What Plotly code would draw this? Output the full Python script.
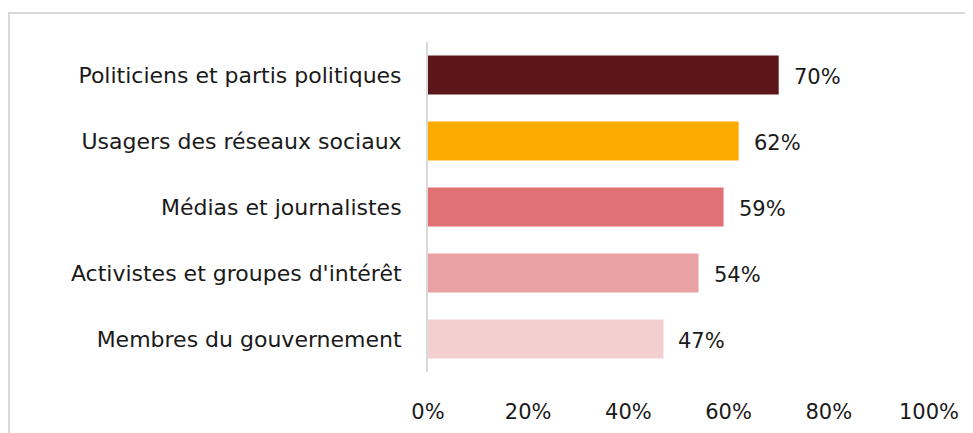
import plotly.graph_objects as go

categories = [
    "Politiciens et partis politiques",
    "Usagers des réseaux sociaux",
    "Médias et journalistes",
    "Activistes et groupes d'intérêt",
    "Membres du gouvernement",
]
values = [70, 62, 59, 54, 47]
bar_colors = ["#5C1619", "#FFAA00", "#E07275", "#E9A1A3", "#F4CFD0"]
tick_values = [0, 20, 40, 60, 80, 100]
tick_labels = ["0%", "20%", "40%", "60%", "80%", "100%"]

FONT = "DejaVu Sans, sans-serif"
TEXT_COLOR = "#1a1a1a"
FS_CAT = 22
FS_NUM = 21

fig = go.Figure()
fig.add_trace(go.Bar(
    y=categories,
    x=values,
    orientation="h",
    marker=dict(color=bar_colors, line=dict(width=0)),
    width=0.59,
    hoverinfo="skip",
))

for cat, v in zip(categories, values):
    fig.add_annotation(
        x=v, y=cat, xref="x", yref="y",
        text=f"{v}%", showarrow=False,
        xanchor="left", yanchor="middle", xshift=13, yshift=-2,
        font=dict(family=FONT, size=FS_NUM, color=TEXT_COLOR),
    )

# outer border (chart frame), partly outside the visible window
fig.add_shape(
    type="rect", xref="paper", yref="paper",
    x0=-0.8363, x1=1.15, y0=1.0879, y1=-0.3,
    line=dict(color="#D9D9D9", width=2), fillcolor="rgba(0,0,0,0)",
    layer="below",
)

fig.update_layout(
    width=973, height=433,
    margin=dict(l=420, r=52, t=34, b=69),
    paper_bgcolor="white", plot_bgcolor="white",
    showlegend=False,
    font=dict(family=FONT, size=FS_NUM, color=TEXT_COLOR),
    xaxis=dict(
        range=[0, 100], tickvals=tick_values, ticktext=tick_labels,
        showgrid=False, zeroline=False, showline=False,
        ticks="", ticklabelstandoff=25,
        tickfont=dict(family=FONT, size=FS_NUM, color=TEXT_COLOR),
        fixedrange=True,
    ),
    yaxis=dict(
        autorange="reversed", showgrid=False, zeroline=False,
        showline=True, linecolor="#D9D9D9", linewidth=2,
        ticks="", ticklabelstandoff=20,
        tickfont=dict(family=FONT, size=FS_CAT, color=TEXT_COLOR),
        fixedrange=True,
    ),
)

fig.write_html("out.html", config={"displayModeBar": False})
